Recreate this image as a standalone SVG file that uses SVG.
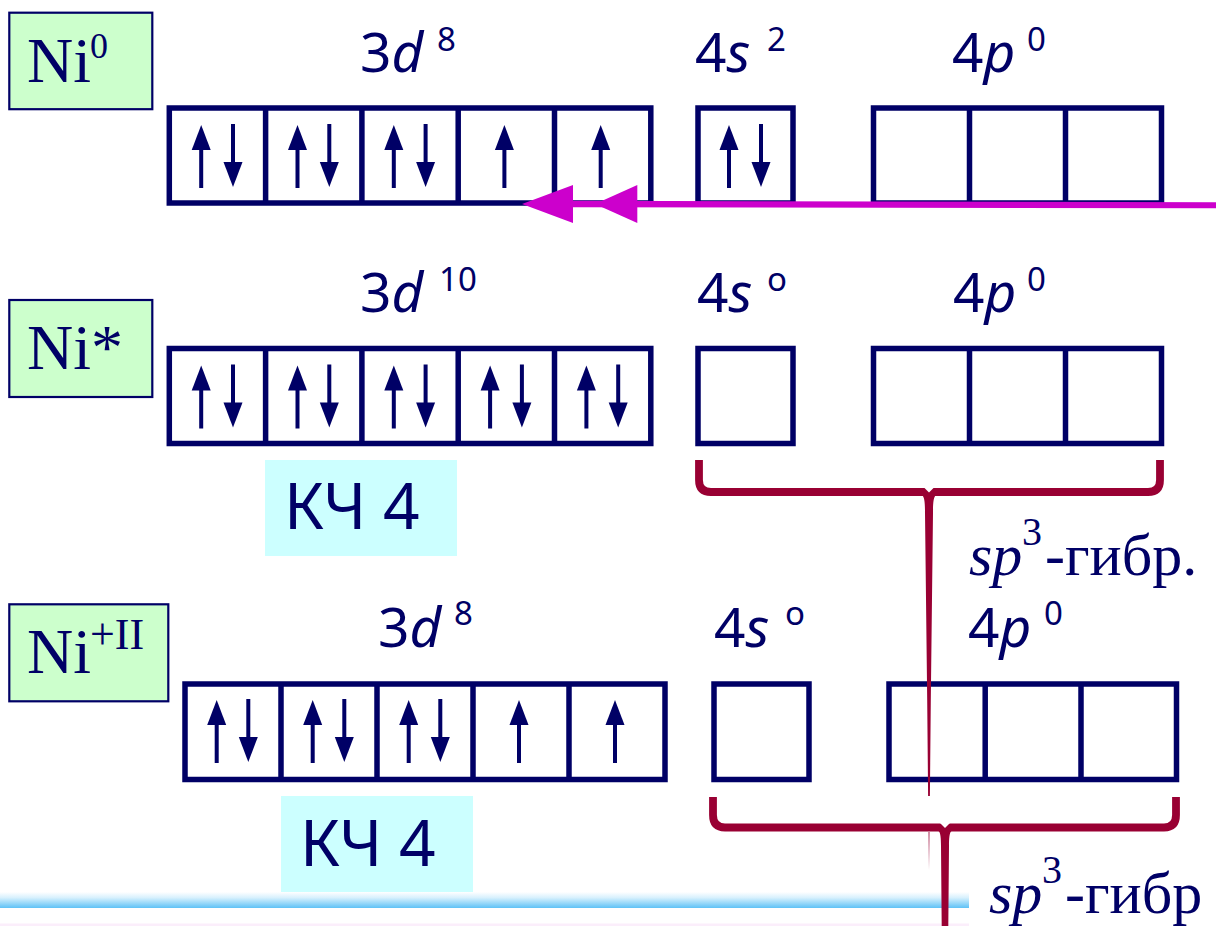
<svg xmlns="http://www.w3.org/2000/svg" xmlns:xlink="http://www.w3.org/1999/xlink" width="1216" height="926" viewBox="0 0 1216 926">
<style>
.ni{font-family:"Liberation Serif","Times New Roman",serif;font-size:64px;fill:#000066}
.nisup{font-family:"Liberation Serif","Times New Roman",serif;fill:#000066}
.lbl{font-family:"Noto Sans","DejaVu Sans",sans-serif;font-size:55px;fill:#000066}
.sup{font-family:"Noto Sans","DejaVu Sans",sans-serif;font-size:33px;fill:#000066}
.it{font-style:italic}
.kch{font-family:"Noto Sans","DejaVu Sans",sans-serif;font-size:64px;fill:#000066}
.sp{font-family:"Liberation Serif","Times New Roman",serif;font-size:60px;fill:#000066}
.sp3{font-family:"Liberation Serif","Times New Roman",serif;font-size:40px;fill:#000066}
.niBox{fill:#ccffcc;stroke:#000066;stroke-width:2.2}
.kBox{fill:#ccffff}
.orb{fill:none;stroke:#000066;stroke-width:5.5}
.div{stroke:#000066;stroke-width:5.5}
.brace{fill:none;stroke:#990033;stroke-width:7.8}
.stem{fill:#990033}
</style>
<defs>
<g id="up"><rect x="-2" y="20" width="4" height="43" fill="#000066"/><polygon points="0,0 -9.5,25 9.5,25" fill="#000066"/></g>
<g id="dn"><rect x="-2" y="0" width="4" height="40" fill="#000066"/><polygon points="-9.5,38 9.5,38 0,63" fill="#000066"/></g>
<linearGradient id="band" x1="0" y1="0" x2="0" y2="1">
<stop offset="0" stop-color="#ffffff"/><stop offset="0.35" stop-color="#d8f1fd"/><stop offset="1" stop-color="#5ec2f6"/>
</linearGradient>
<linearGradient id="ghost" x1="0" y1="0" x2="0" y2="1">
<stop offset="0" stop-color="#990033" stop-opacity="0.45"/><stop offset="1" stop-color="#990033" stop-opacity="0"/>
</linearGradient>
</defs>
<rect width="1216" height="926" fill="#ffffff"/>

<!-- Row 1: Ni0 -->
<g id="ni0-label">
<rect class="niBox" x="9.3" y="12.7" width="143" height="96.5"/>
<text class="ni" x="27" y="82">Ni</text>
<text class="nisup" x="90" y="58" font-size="36">0</text>
</g>
<g id="ni0-3d">
<text class="lbl" x="360" y="72">3<tspan class="it">d</tspan></text>
<text class="sup" x="437" y="51">8</text>
<rect class="orb" x="169.3" y="108" width="481.5" height="95"/>
<line class="div" x1="265.6" y1="108" x2="265.6" y2="203"/>
<line class="div" x1="361.9" y1="108" x2="361.9" y2="203"/>
<line class="div" x1="458.2" y1="108" x2="458.2" y2="203"/>
<line class="div" x1="554.5" y1="108" x2="554.5" y2="203"/>
<use xlink:href="#up" x="201.2" y="125"/><use xlink:href="#dn" x="233" y="124"/>
<use xlink:href="#up" x="297.5" y="125"/><use xlink:href="#dn" x="329.3" y="124"/>
<use xlink:href="#up" x="393.8" y="125"/><use xlink:href="#dn" x="425.6" y="124"/>
<use xlink:href="#up" x="504.4" y="125"/>
<use xlink:href="#up" x="600.7" y="125"/>
</g>
<g id="ni0-4s">
<text class="lbl" x="695" y="72">4<tspan class="it">s</tspan></text>
<text class="sup" x="767" y="51">2</text>
<rect class="orb" x="698" y="108" width="95" height="95"/>
<use xlink:href="#up" x="729" y="125"/><use xlink:href="#dn" x="761" y="124"/>
</g>
<g id="ni0-4p">
<text class="lbl" x="952" y="72">4<tspan class="it">p</tspan></text>
<text class="sup" x="1027" y="51">0</text>
<rect class="orb" x="873.5" y="108" width="288" height="95"/>
<line class="div" x1="969.5" y1="108" x2="969.5" y2="203"/>
<line class="div" x1="1065.5" y1="108" x2="1065.5" y2="203"/>
</g>

<!-- Row 2: Ni* -->
<g id="nistar-label">
<rect class="niBox" x="9.3" y="300" width="143" height="97"/>
<text class="ni" x="27" y="369">Ni*</text>
</g>
<g id="nistar-3d">
<text class="lbl" x="360" y="312">3<tspan class="it">d</tspan></text>
<text class="sup" x="439" y="291">10</text>
<rect class="orb" x="169.3" y="348.5" width="481.5" height="95"/>
<line class="div" x1="265.6" y1="348.5" x2="265.6" y2="443.5"/>
<line class="div" x1="361.9" y1="348.5" x2="361.9" y2="443.5"/>
<line class="div" x1="458.2" y1="348.5" x2="458.2" y2="443.5"/>
<line class="div" x1="554.5" y1="348.5" x2="554.5" y2="443.5"/>
<use xlink:href="#up" x="201.2" y="365.5"/><use xlink:href="#dn" x="233" y="364.5"/>
<use xlink:href="#up" x="297.5" y="365.5"/><use xlink:href="#dn" x="329.3" y="364.5"/>
<use xlink:href="#up" x="393.8" y="365.5"/><use xlink:href="#dn" x="425.6" y="364.5"/>
<use xlink:href="#up" x="490.1" y="365.5"/><use xlink:href="#dn" x="521.9" y="364.5"/>
<use xlink:href="#up" x="586.4" y="365.5"/><use xlink:href="#dn" x="618.2" y="364.5"/>
</g>
<g id="nistar-4s">
<text class="lbl" x="697" y="312">4<tspan class="it">s</tspan></text>
<text class="sup" x="767" y="291">o</text>
<rect class="orb" x="698" y="348.5" width="95" height="95"/>
</g>
<g id="nistar-4p">
<text class="lbl" x="953" y="312">4<tspan class="it">p</tspan></text>
<text class="sup" x="1027" y="291">0</text>
<rect class="orb" x="873.5" y="348.5" width="288" height="95"/>
<line class="div" x1="969.5" y1="348.5" x2="969.5" y2="443.5"/>
<line class="div" x1="1065.5" y1="348.5" x2="1065.5" y2="443.5"/>
</g>
<g id="nistar-kch">
<rect class="kBox" x="265" y="460" width="192" height="96"/>
<text class="kch" x="284" y="529">КЧ 4</text>
</g>

<!-- Row 3: Ni+II -->
<g id="ni2-label">
<rect class="niBox" x="9.3" y="604.3" width="159" height="97"/>
<text class="ni" x="27" y="673">Ni</text>
<text class="nisup" x="90" y="649" font-size="44">+II</text>
</g>
<g id="ni2-3d">
<text class="lbl" x="378" y="647">3<tspan class="it">d</tspan></text>
<text class="sup" x="454" y="625">8</text>
<rect class="orb" x="185" y="684" width="480" height="95.5"/>
<line class="div" x1="281" y1="684" x2="281" y2="779.5"/>
<line class="div" x1="377" y1="684" x2="377" y2="779.5"/>
<line class="div" x1="473" y1="684" x2="473" y2="779.5"/>
<line class="div" x1="569" y1="684" x2="569" y2="779.5"/>
<use xlink:href="#up" x="216.7" y="700"/><use xlink:href="#dn" x="248.3" y="699"/>
<use xlink:href="#up" x="312.7" y="700"/><use xlink:href="#dn" x="344.3" y="699"/>
<use xlink:href="#up" x="408.7" y="700"/><use xlink:href="#dn" x="440.3" y="699"/>
<use xlink:href="#up" x="519" y="700"/>
<use xlink:href="#up" x="615" y="700"/>
</g>
<g id="ni2-4s">
<text class="lbl" x="714" y="647">4<tspan class="it">s</tspan></text>
<text class="sup" x="785" y="625">o</text>
<rect class="orb" x="714" y="684" width="95" height="95.5"/>
</g>
<g id="ni2-4p">
<text class="lbl" x="968" y="647">4<tspan class="it">p</tspan></text>
<text class="sup" x="1044" y="625">0</text>
<rect class="orb" x="889" y="684" width="287.5" height="95.5"/>
<line class="div" x1="985.2" y1="684" x2="985.2" y2="779.5"/>
<line class="div" x1="1081" y1="684" x2="1081" y2="779.5"/>
</g>
<g id="ni2-kch">
<rect class="kBox" x="281" y="796" width="192" height="96"/>
<text class="kch" x="300" y="865.5">КЧ 4</text>
</g>

<g id="bottom-band">
<rect x="0" y="892" width="969" height="16" fill="url(#band)"/>
<rect x="0" y="923.5" width="969" height="2.5" fill="#fbeefb"/>
</g>

<g id="sp3-labels">
<text class="sp" x="969" y="575"><tspan class="it">sp</tspan></text>
<text class="sp3" x="1022" y="545">3</text>
<text class="sp" x="1045" y="575">-гибр.</text>
<text class="sp" x="989" y="913"><tspan class="it">sp</tspan></text>
<text class="sp3" x="1042" y="883">3</text>
<text class="sp" x="1065" y="913">-гибр</text>
</g>

<!-- Connectors -->
<g id="connectors">
<path class="brace" d="M699,460 L699,480 Q699,492 711,492 L1148,492 Q1160,492 1160,480 L1160,460"/>
<polygon points="924,487.6 934,487.6 929,492.6" fill="#ffffff"/>
<path class="stem" d="M922,495 C924.5,497 925,503 925,513 L927.2,700 L928.1,796 L929.9,796 L930.8,700 L933,513 C933,503 933.5,497 936,495 Z"/>
<rect x="928" y="832" width="2" height="38" fill="url(#ghost)"/>
<path class="brace" d="M713,797 L713,815 Q713,827.5 725,827.5 L1164,827.5 Q1176,827.5 1176,815 L1176,797"/>
<polygon points="940,823 950,823 945,828" fill="#ffffff"/>
<path class="stem" d="M938.5,831 C940.5,832.5 941,838 941,846 L941.7,926 L948.3,926 L949,846 C949,838 949.5,832.5 951.5,831 Z"/>
<polygon points="573,200.7 1216,202.3 1216,208.3 573,207.3" fill="#cc00cc"/>
<polygon points="522,204 573,185 573,223" fill="#cc00cc"/>
<polygon points="595,204 637.3,185 637.3,223" fill="#cc00cc"/>
</g>
</svg>
